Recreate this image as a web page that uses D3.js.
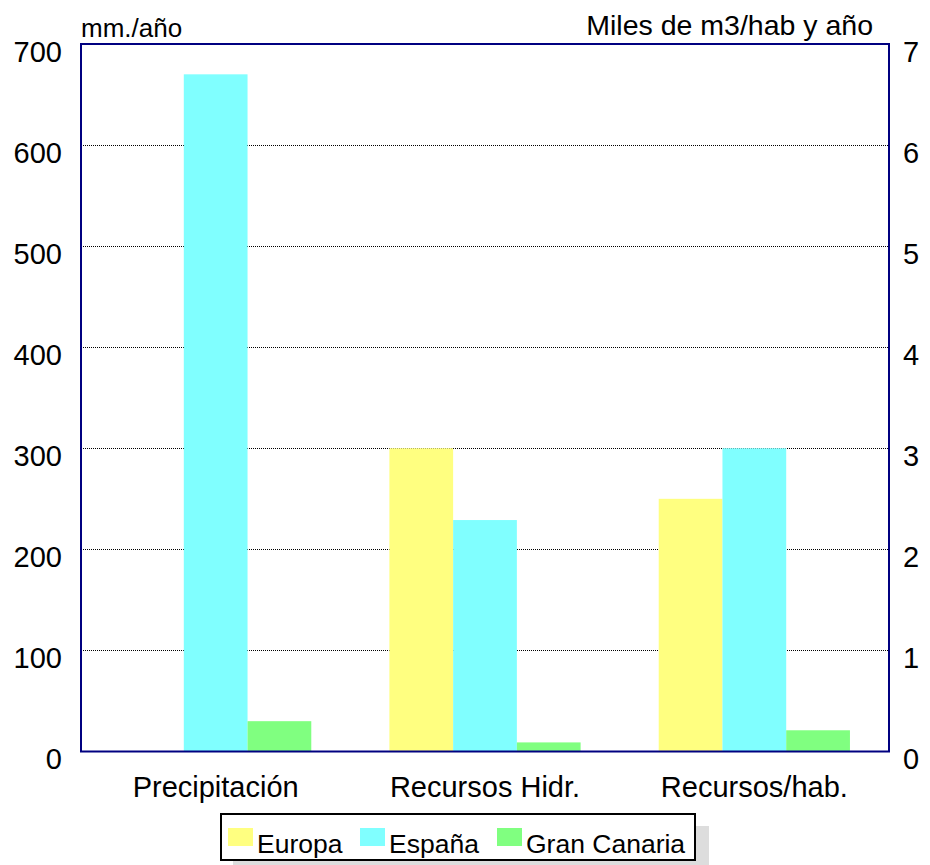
<!DOCTYPE html>
<html>
<head>
<meta charset="utf-8">
<script src="https://cdn.jsdelivr.net/npm/d3@7"></script>
<style>
  body { margin: 0; background: #fff; }
  text { font-family: Arial, "Liberation Sans", sans-serif; fill: #000; }
</style>
</head>
<body>
<div id="chart"></div>
<script>
// Chart data
const categories = ["Precipitación", "Recursos Hidr.", "Recursos/hab."];
const seriesNames = ["Europa", "España", "Gran Canaria"];
const seriesColors = ["#FFFF80", "#80FFFF", "#80FF80"];
// first two categories in mm./año (left axis), last one in miles de m3/hab y año (right axis)
const europa = [0, 300, 2.5];
const espana = [670, 229, 3.0];
const granCanaria = [30, 9, 0.21];
const leftTicks = [0, 100, 200, 300, 400, 500, 600, 700];
const rightTicks = [0, 1, 2, 3, 4, 5, 6, 7];
const leftTitle = "mm./año";
const rightTitle = "Miles de m3/hab y año";

const width = 930, height = 865;
const plot = {left: 81, right: 889, top: 44, bottom: 751.5};
const font = "Arial, 'Liberation Sans', sans-serif";

const svg = d3.select("#chart").append("svg")
  .attr("width", width)
  .attr("height", height);

// Scales
const x0 = d3.scaleBand()
  .domain(categories)
  .range([plot.left, plot.right])
  .paddingInner(0.29)
  .paddingOuter(0.145);

const x1 = d3.scaleBand()
  .domain(seriesNames)
  .range([0, x0.bandwidth()]);

const yLeft = d3.scaleLinear().domain([0, 700]).range([plot.bottom, plot.top]);
const yRight = d3.scaleLinear().domain([0, 7]).range([plot.bottom, plot.top]);

// Dotted grid lines
svg.append("g")
  .selectAll("line")
  .data(leftTicks.filter(d => d > 0 && d < 700))
  .enter()
  .append("line")
  .attr("x1", plot.left)
  .attr("x2", plot.right)
  .attr("y1", d => Math.round(yLeft(d)) + 0.5)
  .attr("y2", d => Math.round(yLeft(d)) + 0.5)
  .style("stroke", "#000")
  .style("stroke-width", 1)
  .style("shape-rendering", "crispEdges")
  .style("stroke-dasharray", "1,1");

// Bars
const seriesValues = [europa, espana, granCanaria];
const rows = categories.map((c, i) => ({
  category: c,
  scale: i === 2 ? yRight : yLeft,
  values: seriesNames.map((s, j) => ({series: s, value: seriesValues[j][i], color: seriesColors[j]}))
}));

const groups = svg.append("g")
  .selectAll("g")
  .data(rows)
  .enter()
  .append("g")
  .attr("transform", d => "translate(" + x0(d.category) + ",0)");

groups.selectAll("rect")
  .data(d => d.values.map(v => Object.assign({scale: d.scale}, v)))
  .enter()
  .append("rect")
  .attr("x", d => x1(d.series))
  .attr("width", x1.bandwidth())
  .attr("y", d => d.scale(d.value))
  .attr("height", d => plot.bottom - d.scale(d.value))
  .style("fill", d => d.color);

// Plot frame
svg.append("rect")
  .attr("x", plot.left)
  .attr("y", plot.top)
  .attr("width", plot.right - plot.left)
  .attr("height", plot.bottom - plot.top)
  .style("fill", "none")
  .style("stroke", "#000080")
  .style("stroke-width", 2);

// Left axis labels
const leftAxis = d3.axisLeft(yLeft).tickValues(leftTicks).tickSize(0).tickPadding(19);
svg.append("g")
  .attr("transform", "translate(" + plot.left + ",0)")
  .call(leftAxis)
  .call(g => g.select(".domain").remove())
  .selectAll("text")
  .attr("dy", "0.6em")
  .style("font-size", "29px")
  .style("font-family", font)
  .style("fill", "#000");

// Right axis labels
const rightAxis = d3.axisRight(yRight).tickValues(rightTicks).tickFormat(d3.format("d")).tickSize(0).tickPadding(14);
svg.append("g")
  .attr("transform", "translate(" + plot.right + ",0)")
  .call(rightAxis)
  .call(g => g.select(".domain").remove())
  .selectAll("text")
  .attr("dy", "0.6em")
  .style("font-size", "29px")
  .style("font-family", font)
  .style("fill", "#000");

// Category labels
const xAxis = d3.axisBottom(x0).tickSize(0).tickPadding(25);
svg.append("g")
  .attr("transform", "translate(0," + plot.bottom + ")")
  .call(xAxis)
  .call(g => g.select(".domain").remove())
  .selectAll("text")
  .style("font-size", "29px")
  .style("font-family", font)
  .style("fill", "#000");

// Axis titles
svg.append("text")
  .attr("x", plot.left)
  .attr("y", 37)
  .style("font-size", "26px")
  .text(leftTitle);

svg.append("text")
  .attr("x", 873)
  .attr("y", 35)
  .attr("text-anchor", "end")
  .style("font-size", "28.5px")
  .text(rightTitle);

// Legend
const legend = svg.append("g");
legend.append("rect")
  .attr("x", 233).attr("y", 826)
  .attr("width", 476).attr("height", 50)
  .style("fill", "#DDDDDD");
legend.append("rect")
  .attr("x", 221).attr("y", 814)
  .attr("width", 474).attr("height", 46)
  .style("fill", "#fff")
  .style("stroke", "#000")
  .style("stroke-width", 2);

const legendX = [228, 360, 497];
const item = legend.selectAll(".item")
  .data(seriesNames)
  .enter()
  .append("g")
  .attr("class", "item")
  .attr("transform", (d, i) => "translate(" + legendX[i] + ",0)");

item.append("rect")
  .attr("x", 0).attr("y", 828)
  .attr("width", 25).attr("height", 18)
  .style("fill", (d, i) => seriesColors[i]);

item.append("text")
  .attr("x", 29)
  .attr("y", 853)
  .style("font-size", "26.5px")
  .text(d => d);
</script>
</body>
</html>
